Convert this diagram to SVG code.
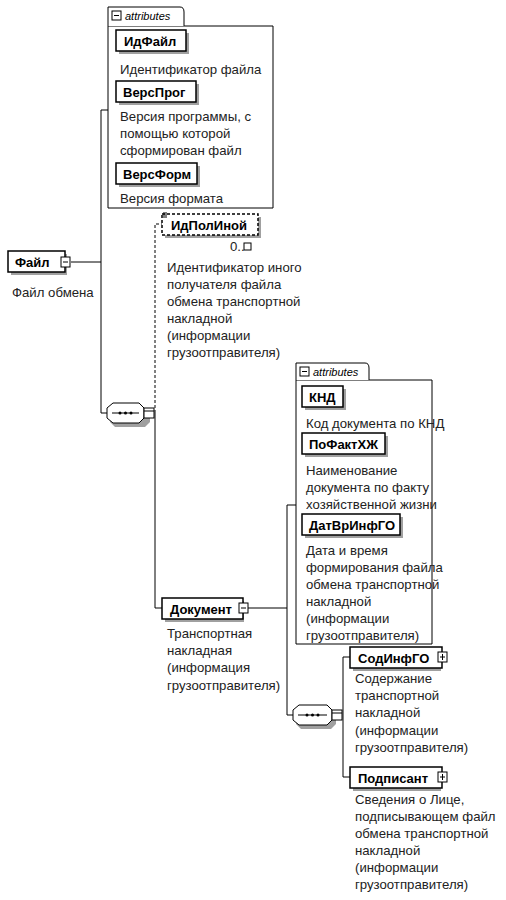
<svg xmlns="http://www.w3.org/2000/svg" width="506" height="900" viewBox="0 0 506 900">
<style>
.bg{fill:#fff}
.box{fill:#fff;stroke:#000;stroke-width:1.5}
.frame{fill:#fff;stroke:#000;stroke-width:1}
.sh{fill:#a0a0a0}
.lbl{font-family:"Liberation Sans",Arial,sans-serif;font-weight:bold;font-size:13px;fill:#000}
.desc{font-family:"Liberation Sans",Arial,sans-serif;font-size:13.2px;fill:#222}
.tab{font-family:"Liberation Sans",Arial,sans-serif;font-style:italic;font-size:11px;fill:#000}
.ln{stroke:#000;stroke-width:1;fill:none}
.dash{stroke-dasharray:3,2}
.sym{fill:#fff;stroke:#000;stroke-width:1}
</style>
<rect class="bg" x="0" y="0" width="506" height="900"/>

<g id="connectors">
  <path class="ln" d="M71,262 H101 M101,110 V413 M101,110 H108 M101,413 H107"/>
  <path class="ln dash" d="M155,413 V224 H162"/>
  <path class="ln" d="M155,413 V608 H162"/>
  <path class="ln" d="M248,608 H287 M287,505 V715 M287,505 H296 M287,715 H293"/>
  <path class="ln" d="M343,715 V657 H350 M343,715 V777 H350"/>
</g>

<g id="attributes1">
  <path class="frame" d="M108,208 V26 H273 V208 Z"/>
  <path class="frame" d="M108,26 V7 H180 Q184,7 184,12 V26"/>
  <rect class="sym" x="112" y="11" width="9" height="9"/>
  <line class="ln" x1="114" y1="15.5" x2="119" y2="15.5"/>
  <text class="tab" x="125" y="20">attributes</text>
</g>

<g id="IdFile">
  <rect class="sh" x="119" y="33" width="70" height="21"/>
  <rect class="box" x="116" y="30" width="70" height="21"/>
  <text class="lbl" x="124" y="45.5">ИдФайл</text>
  <text class="desc" x="120" y="74">Идентификатор файла</text>
</g>

<g id="VersProg">
  <rect class="sh" x="119" y="84" width="80" height="21"/>
  <rect class="box" x="116" y="81" width="80" height="21"/>
  <text class="lbl" x="123" y="96.5">ВерсПрог</text>
  <text class="desc" x="120" y="121">Версия программы, с</text>
  <text class="desc" x="120" y="138">помощью которой</text>
  <text class="desc" x="120" y="155">сформирован файл</text>
</g>

<g id="VersForm">
  <rect class="sh" x="119" y="166" width="81" height="21"/>
  <rect class="box" x="116" y="163" width="81" height="21"/>
  <text class="lbl" x="123" y="178.5">ВерсФорм</text>
  <text class="desc" x="120" y="203">Версия формата</text>
</g>

<g id="File">
  <rect class="sh" x="11" y="254" width="56" height="21"/>
  <rect class="box" x="8" y="251" width="57" height="21"/>
  <text class="lbl" x="15" y="266.5">Файл</text>
  <rect class="sym" x="61" y="257" width="9" height="10"/>
  <line class="ln" x1="63" y1="262" x2="68" y2="262"/>
  <text class="desc" x="12" y="297">Файл обмена</text>
</g>

<g id="sequence1">
  <path fill="#a0a0a0" d="M113,408 H147 L150,414 V422 L145,427 H115 L110,422 Z"/>
  <path class="sym" d="M113,403 H139 L144,408 V418 L139,423 H113 L107,418 V408 Z"/>
  <line class="ln" x1="112" y1="413" x2="139" y2="413"/>
  <circle cx="120" cy="413" r="1.5"/><circle cx="125.5" cy="413" r="1.5"/><circle cx="131" cy="413" r="1.5"/>
  <rect class="sym" x="144" y="408" width="10" height="10"/>
  <line class="ln" x1="144" y1="411" x2="154" y2="411"/>
</g>

<g id="IdPolInoy">
  <rect class="sh" x="165" y="217" width="96" height="21"/>
  <rect class="box dash" x="162" y="214" width="96" height="21"/>
  <path class="ln" d="M163,213 H167 M163,215 H167 M163,217 H167"/>
  <text class="lbl" x="171" y="229.5">ИдПолИной</text>
  <text class="desc" x="230" y="251">0..</text>
  <rect class="sym" x="244" y="243" width="7" height="7"/>
  <text class="desc" x="167" y="272">Идентификатор иного</text>
  <text class="desc" x="167" y="289">получателя файла</text>
  <text class="desc" x="167" y="306">обмена транспортной</text>
  <text class="desc" x="167" y="323">накладной</text>
  <text class="desc" x="167" y="340">(информации</text>
  <text class="desc" x="167" y="357">грузоотправителя)</text>
</g>

<g id="Document">
  <rect class="sh" x="165" y="601" width="79" height="21"/>
  <rect class="box" x="162" y="598" width="81" height="21"/>
  <text class="lbl" x="170" y="613.5">Документ</text>
  <rect class="sym" x="239" y="603" width="9" height="10"/>
  <line class="ln" x1="241" y1="608" x2="246" y2="608"/>
  <text class="desc" x="167" y="638">Транспортная</text>
  <text class="desc" x="167" y="655">накладная</text>
  <text class="desc" x="167" y="672">(информация</text>
  <text class="desc" x="167" y="690">грузоотправителя)</text>
</g>

<g id="attributes2">
  <path class="frame" d="M296,644 V380 H432 V644 Z"/>
  <path class="frame" d="M296,380 V363 H365 Q369,363 369,368 V380"/>
  <rect class="sym" x="300" y="367" width="9" height="9"/>
  <line class="ln" x1="302" y1="371.5" x2="307" y2="371.5"/>
  <text class="tab" x="313" y="376">attributes</text>
</g>

<g id="KND">
  <rect class="sh" x="305" y="389" width="41" height="21"/>
  <rect class="box" x="302" y="386" width="41" height="21"/>
  <text class="lbl" x="309" y="401.5">КНД</text>
  <text class="desc" x="306" y="428">Код документа по КНД</text>
</g>

<g id="PoFaktHZh">
  <rect class="sh" x="305" y="436" width="83" height="21"/>
  <rect class="box" x="302" y="433" width="83" height="21"/>
  <text class="lbl" x="309" y="448.5">ПоФактХЖ</text>
  <text class="desc" x="306" y="475">Наименование</text>
  <text class="desc" x="306" y="492">документа по факту</text>
  <text class="desc" x="306" y="509">хозяйственной жизни</text>
</g>

<g id="DatVrInfGO">
  <rect class="sh" x="305" y="517" width="98" height="21"/>
  <rect class="box" x="302" y="514" width="98" height="21"/>
  <text class="lbl" x="309" y="529.5">ДатВрИнфГО</text>
  <text class="desc" x="306" y="555">Дата и время</text>
  <text class="desc" x="306" y="572">формирования файла</text>
  <text class="desc" x="306" y="589">обмена транспортной</text>
  <text class="desc" x="306" y="606">накладной</text>
  <text class="desc" x="306" y="623">(информации</text>
  <text class="desc" x="306" y="640">грузоотправителя)</text>
</g>

<g id="sequence2">
  <path fill="#a0a0a0" d="M299,710 H333 L336,716 V724 L331,729 H301 L296,724 Z"/>
  <path class="sym" d="M299,705 H327 L332,710 V720 L327,725 H299 L293,720 V710 Z"/>
  <line class="ln" x1="298" y1="715" x2="327" y2="715"/>
  <circle cx="307" cy="715" r="1.5"/><circle cx="312.5" cy="715" r="1.5"/><circle cx="318" cy="715" r="1.5"/>
  <rect class="sym" x="332" y="710" width="10" height="10"/>
  <line class="ln" x1="332" y1="713" x2="342" y2="713"/>
</g>

<g id="SodInfGO">
  <rect class="sh" x="353" y="650" width="88" height="21"/>
  <rect class="box" x="350" y="647" width="92" height="21"/>
  <text class="lbl" x="358" y="662.5">СодИнфГО</text>
  <rect class="sym" x="438" y="652" width="9" height="10"/>
  <path class="ln" d="M440,657 H445 M442.5,654 V660"/>
  <text class="desc" x="355" y="683">Содержание</text>
  <text class="desc" x="355" y="700">транспортной</text>
  <text class="desc" x="355" y="717">накладной</text>
  <text class="desc" x="355" y="735">(информации</text>
  <text class="desc" x="355" y="752">грузоотправителя)</text>
</g>

<g id="Podpisant">
  <rect class="sh" x="353" y="770" width="88" height="21"/>
  <rect class="box" x="350" y="767" width="92" height="21"/>
  <text class="lbl" x="358" y="782.5">Подписант</text>
  <rect class="sym" x="438" y="772" width="9" height="10"/>
  <path class="ln" d="M440,777 H445 M442.5,774 V780"/>
  <text class="desc" x="355" y="804">Сведения о Лице,</text>
  <text class="desc" x="355" y="821">подписывающем файл</text>
  <text class="desc" x="355" y="838">обмена транспортной</text>
  <text class="desc" x="355" y="855">накладной</text>
  <text class="desc" x="355" y="872">(информации</text>
  <text class="desc" x="355" y="889">грузоотправителя)</text>
</g>
</svg>
